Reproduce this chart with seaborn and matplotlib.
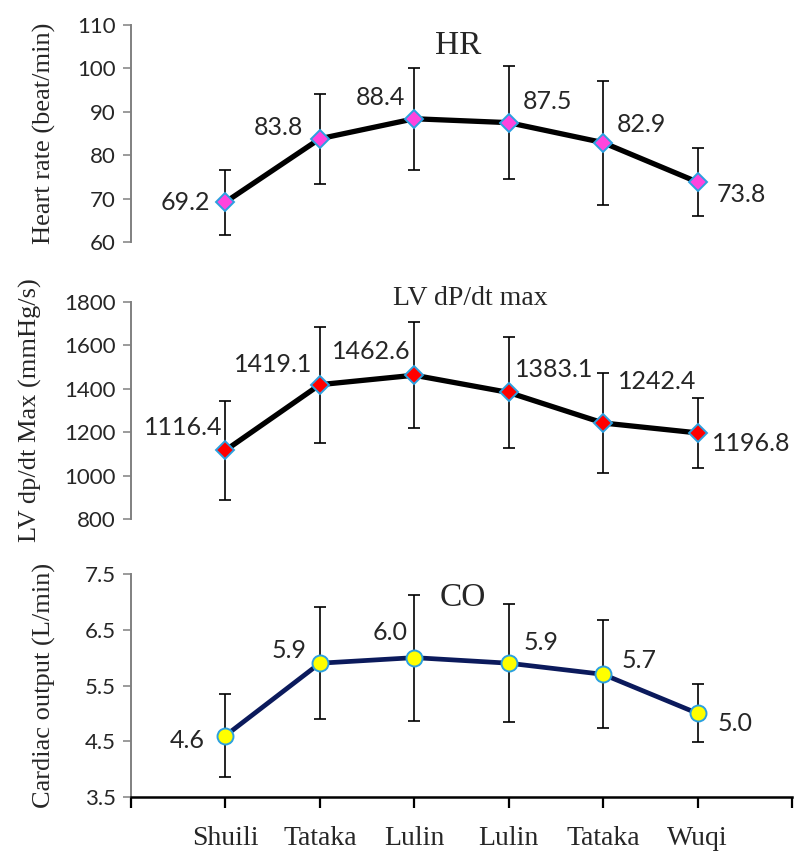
import matplotlib
matplotlib.use("Agg")
import matplotlib.pyplot as plt
import seaborn as sns
import pandas as pd
import numpy as np

sites = ["Shuili", "Tataka", "Lulin", "Lulin", "Tataka", "Wuqi"]

hr_mean = [69.2, 83.8, 88.4, 87.5, 82.9, 73.8]
hr_sd = [7.5, 10.4, 11.7, 13.0, 14.3, 7.8]
hr_labels = ["69.2", "83.8", "88.4", "87.5", "82.9", "73.8"]

lv_mean = [1116.4, 1419.1, 1462.6, 1383.1, 1242.4, 1196.8]
lv_sd = [229, 267, 243, 256, 229, 163]
lv_labels = ["1116.4", "1419.1", "1462.6", "1383.1", "1242.4", "1196.8"]

co_mean = [4.6, 5.9, 6.0, 5.9, 5.7, 5.0]
co_sd = [0.75, 1.0, 1.13, 1.06, 0.97, 0.52]
co_labels = ["4.6", "5.9", "6.0", "5.9", "5.7", "5.0"]

sns.set_theme(style="white")
plt.rcParams["font.family"] = ["Lato", "DejaVu Sans"]

fig = plt.figure(figsize=(7.95, 8.55), dpi=100)
W, H = 795, 855
L, R = 131, 792


def make_ax(top, bottom):
    return fig.add_axes([L / W, 1 - bottom / H, (R - L) / W, (bottom - top) / H])


ax1 = make_ax(25, 242)
ax2 = make_ax(302, 519)
ax3 = make_ax(574, 797)

px = 0.72  # px -> pt

panels = [
    dict(ax=ax1, mean=hr_mean, sd=hr_sd, labels=hr_labels, ylim=(60, 110),
         yticks=[60, 70, 80, 90, 100, 110], ylabel="Heart rate (beat/min)",
         title="HR", tpos=(0.495, 0.905), tsize=24, marker="D", mfc="#FF44DD",
         ms=9.5, lc="black", lw=3.8, tickfmt="{:.0f}",
         offs=[(-40, 0), (-41, 11), (-34, 21), (39, 21), (38, 18), (44, -12)],
         ylx=44),
    dict(ax=ax2, mean=lv_mean, sd=lv_sd, labels=lv_labels, ylim=(800, 1800),
         yticks=[800, 1000, 1200, 1400, 1600, 1800], ylabel="LV dp/dt Max (mmHg/s)",
         title="LV dP/dt max", tpos=(0.513, 1.018), tsize=20, marker="D",
         mfc="#FF0000", ms=9.5, lc="black", lw=3.8, tickfmt="{:.0f}",
         offs=[(-42, 23), (-47, 20), (-43, 24), (45, 23), (54, 41), (54, -11)],
         ylx=30),
    dict(ax=ax3, mean=co_mean, sd=co_sd, labels=co_labels, ylim=(3.5, 7.5),
         yticks=[3.5, 4.5, 5.5, 6.5, 7.5], ylabel="Cardiac output (L/min)",
         title="CO", tpos=(0.502, 0.892), tsize=24, marker="o", mfc="#FFFF00",
         ms=11.5, lc="#0B1A5C", lw=3.4, tickfmt="{:.1f}",
         offs=[(-38, -5), (-31, 13), (-24, 25), (32, 21), (36, 14), (37, -10)],
         ylx=44),
]

xpos = list(range(len(sites)))

for p in panels:
    ax = p["ax"]
    df = pd.DataFrame({"x": xpos, "y": p["mean"], "sd": p["sd"]})
    ax.errorbar(df["x"], df["y"], yerr=df["sd"], fmt="none", ecolor="black",
                elinewidth=1.2, capsize=4, capthick=1.2, zorder=2)
    sns.lineplot(data=df, x="x", y="y", ax=ax, color=p["lc"], linewidth=p["lw"],
                 marker=p["marker"], markersize=p["ms"], markerfacecolor=p["mfc"],
                 markeredgecolor="#2BA0E0", markeredgewidth=1.4, zorder=3)
    ax.set_xlim(-1, 6)
    ax.set_ylim(*p["ylim"])
    ax.set_yticks(p["yticks"])
    ax.set_yticklabels([p["tickfmt"].format(v) for v in p["yticks"]], fontsize=16,
                       family=["Lato", "DejaVu Sans"])
    ax.tick_params(axis="y", direction="out", length=6, width=1.1, color="#808080",
                   left=True, pad=5)
    for s in ["top", "right"]:
        ax.spines[s].set_visible(False)
    ax.spines["left"].set_color("#808080")
    ax.spines["left"].set_linewidth(1.4)
    ax.set_ylabel("")
    ax.set_xlabel("")
    ax.grid(False)
    ax.set_facecolor("none")
    fig.text(p["ylx"] / W, (ax.get_position().y0 + ax.get_position().y1) / 2,
             p["ylabel"], rotation=90, ha="center", va="center", fontsize=19,
             family="Liberation Serif")
    ax.text(p["tpos"][0], p["tpos"][1], p["title"], transform=ax.transAxes,
            ha="center", va="center", fontsize=p["tsize"], family="Liberation Serif")
    for xi, yi, lab, (dx, dy) in zip(xpos, p["mean"], p["labels"], p["offs"]):
        ax.annotate(lab, (xi, yi), xytext=(dx * px, dy * px), textcoords="offset points",
                    ha="center", va="center", fontsize=18,
                    family=["Lato", "DejaVu Sans"], zorder=5)

for ax in (ax1, ax2):
    ax.spines["bottom"].set_visible(False)
    ax.set_xticks([])

ax3.spines["bottom"].set_color("black")
ax3.spines["bottom"].set_linewidth(1.8)
ax3.set_xticks(list(range(-1, 7)))
ax3.set_xticklabels([""] + sites + [""], fontsize=20, family="Liberation Serif")
ax3.tick_params(axis="x", direction="out", length=8, width=1.6, color="black",
                bottom=True, pad=13)

fig.savefig("out.png", dpi=100)
